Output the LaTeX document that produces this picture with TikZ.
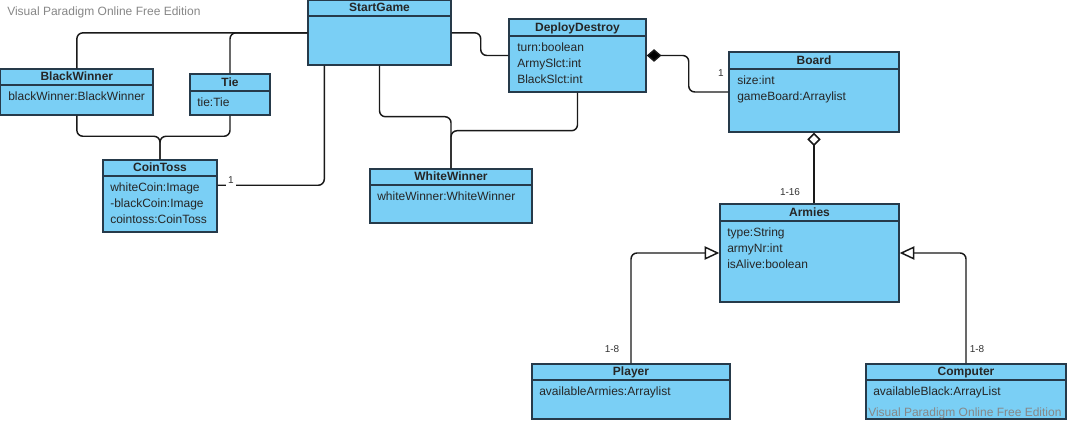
\documentclass[tikz,border=0pt]{standalone}
\usepackage{fontspec}
\setmainfont{Liberation Sans}
\usetikzlibrary{arrows.meta,fit,calc}
\definecolor{clsfill}{RGB}{122,207,245}
\definecolor{clsline}{RGB}{38,58,74}
\definecolor{wm}{RGB}{135,135,135}
\tikzset{
 cls/.style={draw=clsline, fill=clsfill, line width=1.1pt, inner sep=0pt, rectangle},
 sepline/.style={draw=clsline, line width=1.1pt},
 ttl/.style={font=\fontsize{9}{11}\selectfont\bfseries, inner sep=0pt, anchor=base, text=black!85},
 attr/.style={font=\fontsize{9}{11}\selectfont, inner sep=0pt, anchor=base west, text=black!85},
 conn/.style={draw=black!90, line width=1.1pt, rounded corners=4.5pt},
 mult/.style={font=\fontsize{7.5}{9}\selectfont, inner sep=0pt, anchor=base, text=black!80},
 wmark/.style={font=\fontsize{9}{11}\selectfont, text=wm, inner sep=0pt, anchor=base west},
 gentip/.style={-{Triangle[length=11pt,width=10pt,fill=white,line width=1.1pt]}},
}
\newcommand\umlclass[7]{%
  \node[cls, fit={(#2,#3)(#4,#5)}] (#1) {};
  \draw[sepline] (#2,#6) -- (#4,#6);
  \node[ttl] (#1-t) at ({(#2+#4)/2},{#6-4}) {#7};
}
\newcommand\umlattrs[4]{%
  \foreach \t [count=\i from 0] in {#4} {\node[attr] (#1-a\i) at (#2,{#3+\i*15.6}) {\t};}
}
\begin{document}
\begin{tikzpicture}[x=0.75pt,y=-0.75pt]
\useasboundingbox (0,0) rectangle (1067,423);
\fill[white] (0,0) rectangle (1067,423);

\umlclass{startgame}{308}{0.7}{451}{65}{16}{StartGame}
\umlclass{blackwinner}{0.7}{69}{153}{115}{85}{BlackWinner}
\umlattrs{blackwinner}{8}{101}{blackWinner:BlackWinner}
\umlclass{tie}{190}{74}{270}{115}{91}{Tie}
\umlattrs{tie}{197}{107}{tie:Tie}
\umlclass{cointoss}{103}{160}{217}{232}{176}{CoinToss}
\umlattrs{cointoss}{110}{192}{whiteCoin:Image,-blackCoin:Image,cointoss:CoinToss}
\umlclass{whitewinner}{370}{169}{532}{223}{185}{WhiteWinner}
\umlattrs{whitewinner}{377}{201}{whiteWinner:WhiteWinner}
\umlclass{deploy}{509}{19}{646}{92}{36}{DeployDestroy}
\umlattrs{deploy}{517}{52}{turn:boolean,ArmySlct:int,BlackSlct:int}
\umlclass{board}{729}{52}{899}{132}{69}{Board}
\umlattrs{board}{737}{85}{size:int,gameBoard:Arraylist}
\umlclass{armies}{720}{204}{899}{302}{221}{Armies}
\umlattrs{armies}{727}{237}{type:String,armyNr:int,isAlive:boolean}
\umlclass{player}{532}{364}{730}{419}{380}{Player}
\umlattrs{player}{539}{396}{availableArmies:Arraylist}
\umlclass{computer}{866}{364}{1066}{419}{380}{Computer}
\umlattrs{computer}{873}{396}{availableBlack:ArrayList}
\node[wmark] (wm2) at (868,417) {Visual Paradigm Online Free Edition};
\node[wmark] (wm1) at (7,16) {Visual Paradigm Online Free Edition};

\draw[conn] (startgame.west) -| (blackwinner.north);
\draw[conn] (startgame.west) -| (tie.north);
\draw[conn] (blackwinner.south) |- ($(cointoss.north)+(0,-23)$) -- (cointoss.north);
\draw[conn] (tie.south) |- ($(cointoss.north)+(0,-23)$) -- (cointoss.north);
\draw[conn] ($(startgame.south west)+(17,0)$) |- ($(cointoss.north east)+(0,26)$);
\node[mult, fill=white, inner sep=1.5pt] (m1) at (231,184) {1};
\draw[conn] (startgame.south) -- ++(0,51) -| (whitewinner.north);
\draw[conn] (deploy.south) -- ++(0,38) -| (whitewinner.north);
\draw[conn] (startgame.east) -- ++(29,0) |- (deploy.west);
\draw[conn, {Diamond[length=11pt,width=9.5pt,fill=black]}-] (deploy.east) -- ++(42,0) |- (board.west);
\node[mult] (m2) at (721,77) {1};
\draw[conn, {Diamond[length=10pt,width=10pt,fill=white]}-] (board.south) -- (board.south |- armies.north);
\node[mult] (m3) at (790,196) {1-16};
\draw[conn, gentip] (player.north) |- (armies.west);
\node[mult] (m4) at (612,353) {1-8};
\draw[conn, gentip] (computer.north) |- (armies.east);
\node[mult] (m5) at (977,353) {1-8};
\end{tikzpicture}
\end{document}
